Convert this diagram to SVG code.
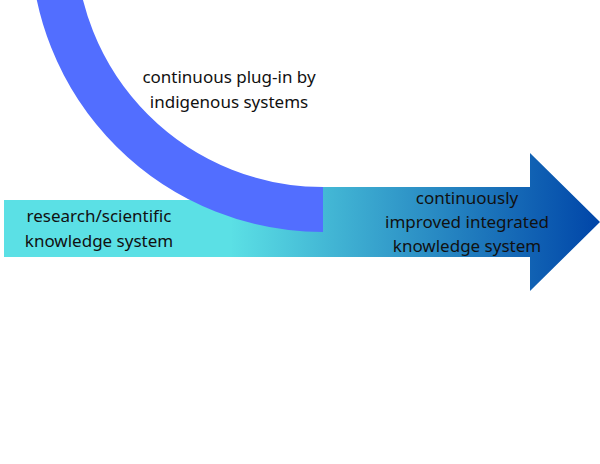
<svg xmlns="http://www.w3.org/2000/svg" width="600" height="464" viewBox="0 0 600 464">
<style>text{font-family:"Noto Sans",Inter,sans-serif;font-size:17px;fill:#111;text-anchor:middle}</style>
<defs><linearGradient id="g" x1="230" y1="0" x2="600" y2="0" gradientUnits="userSpaceOnUse"><stop offset="0" stop-color="#5BE0E5"/><stop offset="1" stop-color="#0045A8"/></linearGradient></defs>
<rect width="600" height="464" fill="#fff"/>
<g id="connectors">
<path d="M230 187H530V153L600 222L530 291V257H230Z" fill="url(#g)"/>
<rect x="4" y="200" width="228" height="57" fill="#5BE0E5"/>
<path d="M53 -60A270 270 0 0 0 323 209.5" fill="none" stroke="#526EFF" stroke-width="45"/>
</g>
<g id="n1"><text x="229" y="83">continuous plug-in by</text><text x="229" y="108">indigenous systems</text></g>
<g id="n2"><text x="99" y="222">research/scientific</text><text x="99" y="247">knowledge system</text></g>
<g id="n3"><text x="467" y="204">continuously</text><text x="467" y="228">improved integrated</text><text x="467" y="252">knowledge system</text></g>
</svg>
